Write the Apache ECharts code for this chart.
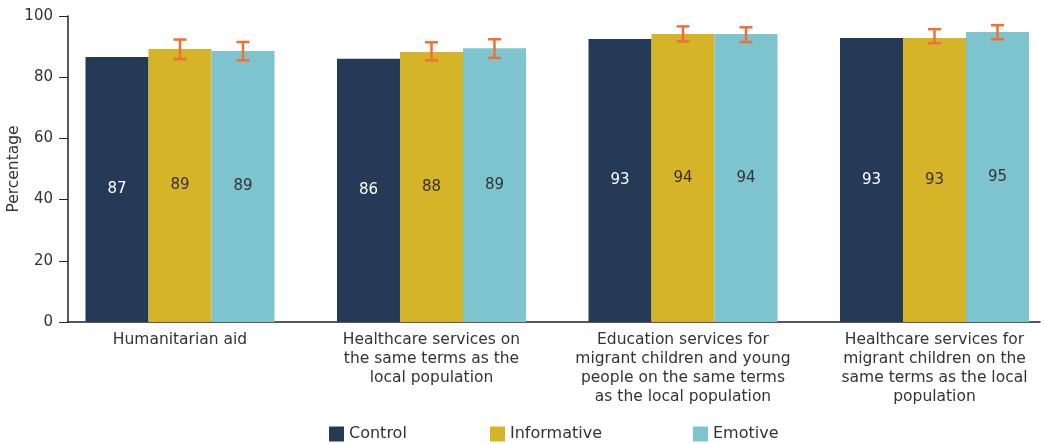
<!DOCTYPE html>
<html><head><meta charset="utf-8">
<script src="https://cdn.jsdelivr.net/npm/echarts@6/dist/echarts.min.js"></script>
<style>html,body{margin:0;padding:0;background:#fff}#c{width:1044px;height:444px}</style>
</head><body><div id="c"></div>
<script>
const categories = [
  "Humanitarian aid",
  "Healthcare services on\nthe same terms as the\nlocal population",
  "Education services for\nmigrant children and young\npeople on the same terms\nas the local population",
  "Healthcare services for\nmigrant children on the\nsame terms as the local\npopulation"
];
const seriesNames = ["Control", "Informative", "Emotive"];
const control = [86.6, 86.0, 92.5, 92.8];
const informative = [89.2, 88.2, 94.1, 92.8];
const emotive = [88.6, 89.5, 94.1, 94.8];
const controlLabels = [87, 86, 93, 93];
const informativeLabels = [89, 88, 94, 93];
const emotiveLabels = [89, 89, 94, 95];
const informativeLow = [85.9, 85.5, 91.7, 91.1];
const informativeHigh = [92.3, 91.4, 96.6, 95.7];
const emotiveLow = [85.5, 86.3, 91.5, 92.4];
const emotiveHigh = [91.5, 92.4, 96.3, 97.0];
const yTicks = [0, 20, 40, 60, 80, 100];

const FONT = "DejaVu Sans";
const colors = ["#253A57", "#D6B428", "#7EC4CF"];
const BW = 63;
const catIdx = categories.map((c, i) => i);

function barSeries(k, data, labels, labelColor) {
  return {
    name: seriesNames[k], type: "custom",
    itemStyle: { color: colors[k] },
    data: data.map((v, i) => [catIdx[i], v]),
    encode: { x: 0, y: 1 },
    renderItem: function (params, api) {
      const i = api.value(0);
      const top = api.coord([i, api.value(1)]);
      const base = api.coord([i, 0]);
      const x = top[0] + (k - 1) * BW - BW / 2;
      return { type: "group", children: [
        { type: "rect", shape: { x: x, y: top[1], width: BW, height: base[1] - top[1] },
          style: { fill: colors[k] } },
        { type: "text", x: x + BW / 2, y: (top[1] + base[1]) / 2,
          style: { text: String(labels[params.dataIndex]), fill: labelColor,
                   font: "15px '" + FONT + "'", align: "center", verticalAlign: "middle" } }
      ]};
    }
  };
}
function errSeries(low, high, offset) {
  return {
    type: "custom", silent: true, z: 10,
    data: low.map((l, i) => [catIdx[i], l, high[i]]),
    encode: { x: 0, y: [1, 2] },
    renderItem: function (params, api) {
      const i = api.value(0);
      const lo = api.coord([i, api.value(1)]);
      const hi = api.coord([i, api.value(2)]);
      const x = lo[0] + offset;
      const cw = 6.5;
      const st = { stroke: "#F07033", lineWidth: 2.5 };
      return { type: "group", children: [
        { type: "line", shape: { x1: x, y1: lo[1], x2: x, y2: hi[1] }, style: st },
        { type: "line", shape: { x1: x - cw, y1: lo[1], x2: x + cw, y2: lo[1] }, style: st },
        { type: "line", shape: { x1: x - cw, y1: hi[1], x2: x + cw, y2: hi[1] }, style: st }
      ]};
    }
  };
}

const legendPos = [329, 490, 693];
const chart = echarts.init(document.getElementById("c"));
chart.setOption({
  animation: false,
  textStyle: { fontFamily: FONT },
  grid: { left: 68, top: 16, width: 972, height: 306, containLabel: false, outerBoundsMode: "none" },
  legend: seriesNames.map((n, k) => ({
    data: [n], top: 426, left: legendPos[k], itemWidth: 15, itemHeight: 15,
    icon: "rect", itemGap: 6, padding: 0,
    textStyle: { fontFamily: FONT, fontSize: 16, color: "#333" }
  })),
  xAxis: {
    type: "value", min: -0.4453, max: 3.4195,
    axisLine: { show: true, onZero: false, lineStyle: { color: "#222", width: 1.5 } },
    axisTick: { show: false },
    splitLine: { show: false },
    axisLabel: {
      customValues: catIdx, formatter: v => categories[Math.round(v)],
      fontFamily: FONT, fontSize: 15.5, color: "#333", lineHeight: 19, margin: 8
    }
  },
  yAxis: {
    type: "value", min: 0, max: 100, interval: 20,
    name: "Percentage", nameLocation: "middle", nameGap: 46, nameRotate: 90,
    nameMoveOverlap: false,
    nameTextStyle: { fontFamily: FONT, fontSize: 15.5, color: "#333" },
    axisLine: { show: true, onZero: false, lineStyle: { color: "#222", width: 1.5 } },
    axisTick: { show: true, length: 9, customValues: yTicks, lineStyle: { color: "#222" } },
    splitLine: { show: false },
    axisLabel: { customValues: yTicks, fontFamily: FONT, fontSize: 15, color: "#333", margin: 15 }
  },
  series: [
    barSeries(0, control, controlLabels, "#fff"),
    barSeries(1, informative, informativeLabels, "#333"),
    barSeries(2, emotive, emotiveLabels, "#333"),
    errSeries(informativeLow, informativeHigh, 0),
    errSeries(emotiveLow, emotiveHigh, BW)
  ]
});
</script></body></html>
